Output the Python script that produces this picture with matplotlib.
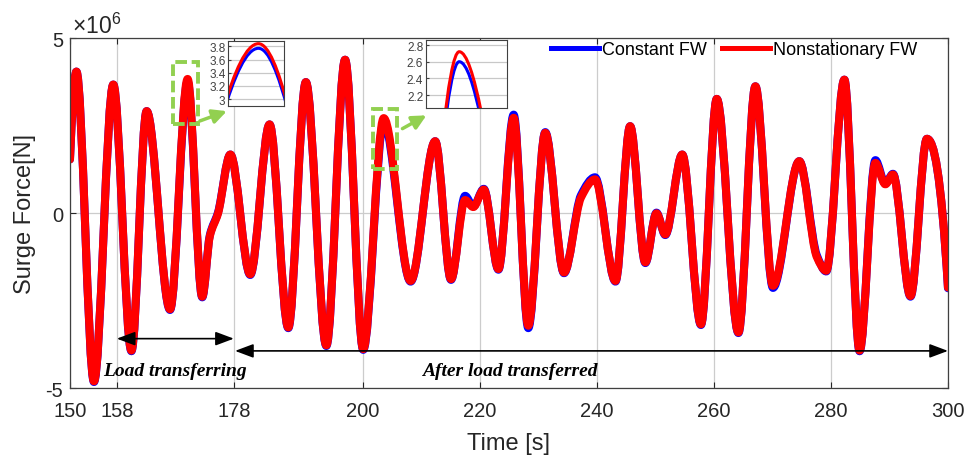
import numpy as np
import matplotlib
matplotlib.use('Agg')
import matplotlib.pyplot as plt
from matplotlib.path import Path
from matplotlib.patches import PathPatch, Rectangle
from matplotlib.lines import Line2D

plt.rcParams['font.family'] = ['Liberation Sans', 'DejaVu Sans']
plt.rcParams['mathtext.fontset'] = 'custom'
plt.rcParams['mathtext.rm'] = 'Liberation Sans'
plt.rcParams['axes.unicode_minus'] = False

# turning points of the surge force (s, x10^6 N)
time = [150.0, 151.1, 154.1, 157.4, 160.5, 163.1, 167.1, 170.1, 172.6, 173.9,
        175.3, 177.4, 180.8, 184.1, 187.3, 190.3, 193.8, 197.0, 200.1, 203.6,
        208.2, 212.4, 215.1, 217.5, 218.9, 220.7, 223.2, 225.8, 228.3, 231.2,
        234.4, 237.3, 239.7, 243.2, 245.7, 248.3, 250.2, 251.7, 254.6, 257.8,
        260.5, 264.2, 267.1, 270.1, 274.6, 277.6, 279.2, 282.3, 284.9, 287.6,
        289.3, 290.6, 293.6, 296.4, 300.0]

force_nonstat = [1.54, 4.05, -4.80, 3.68, -3.92, 2.92, -2.74, 3.84, -2.38, -0.65,
                 0.00, 1.68, -1.74, 2.54, -3.26, 3.75, -3.77, 4.39, -3.88, 2.72,
                 -1.93, 2.06, -1.88, 0.38, 0.18, 0.68, -1.59, 2.73, -3.21, 2.30,
                 -1.69, 0.45, 0.97, -1.93, 2.49, -1.40, 0.00, -0.60, 1.68, -3.17,
                 3.27, -3.40, 3.63, -2.07, 1.49, -1.25, -1.64, 3.82, -3.92, 1.44,
                 0.83, 1.11, -2.36, 2.13, -2.12]

force_const = [1.54, 4.05, -4.82, 3.68, -3.94, 2.92, -2.76, 3.77, -2.40, -0.62,
               0.03, 1.68, -1.76, 2.54, -3.28, 3.75, -3.79, 4.39, -3.90, 2.60,
               -1.95, 2.06, -1.90, 0.50, 0.20, 0.70, -1.61, 2.82, -3.28, 2.32,
               -1.71, 0.52, 1.03, -1.95, 2.49, -1.42, 0.02, -0.62, 1.68, -3.19,
               3.27, -3.42, 3.63, -2.13, 1.49, -1.20, -1.66, 3.82, -3.94, 1.52,
               0.85, 1.13, -2.38, 2.13, -2.14]

xticks = [150, 158, 178, 200, 220, 240, 260, 280, 300]


def pchip_slopes(x, y):
    x = np.asarray(x, float)
    y = np.asarray(y, float)
    h = np.diff(x)
    d = np.diff(y) / h
    m = np.zeros_like(y)
    for k in range(1, len(y) - 1):
        if d[k - 1] * d[k] > 0:
            w1 = 2 * h[k] + h[k - 1]
            w2 = h[k] + 2 * h[k - 1]
            m[k] = (w1 + w2) / (w1 / d[k - 1] + w2 / d[k])

    def end(h0, h1, d0, d1):
        s = ((2 * h0 + h1) * d0 - h0 * d1) / (h0 + h1)
        if np.sign(s) != np.sign(d0):
            s = 0.0
        elif np.sign(d0) != np.sign(d1) and abs(s) > abs(3 * d0):
            s = 3 * d0
        return s

    m[0] = end(h[0], h[1], d[0], d[1])
    m[-1] = end(h[-1], h[-2], d[-1], d[-2])
    return m


def curve(x, y):
    # smooth cubic path through the turning points
    m = pchip_slopes(x, y)
    verts = [(x[0], y[0])]
    codes = [Path.MOVETO]
    for k in range(len(x) - 1):
        h = (x[k + 1] - x[k]) / 3
        verts += [(x[k] + h, y[k] + m[k] * h),
                  (x[k + 1] - h, y[k + 1] - m[k + 1] * h),
                  (x[k + 1], y[k + 1])]
        codes += [Path.CURVE4] * 3
    return Path(verts, codes)


path_c = curve(time, force_const)
path_n = curve(time, force_nonstat)

fig = plt.figure(figsize=(9.69, 4.64), dpi=100)
ax = fig.add_axes([0.0722, 0.1609, 0.9061, 0.7543])

ax.add_patch(PathPatch(path_c, fill=False, ec='blue', lw=5.8, capstyle='round', joinstyle='round'))
ax.add_patch(PathPatch(path_n, fill=False, ec='red', lw=5.8, capstyle='round', joinstyle='round'))

ax.set_xlim(150, 300)
ax.set_ylim(-5, 5)
ax.set_xticks(xticks)
ax.set_yticks([-5, 0, 5])
ax.grid(True, color='#cccccc', lw=0.9)
ax.set_axisbelow(True)
ax.tick_params(direction='in', length=4, top=True, right=True, labelsize=14.5,
               colors='#262626', width=0.8)
ax.tick_params(axis='x', pad=9)
ax.tick_params(axis='y', pad=5)
for s in ax.spines.values():
    s.set_color('#404040')
    s.set_linewidth(0.9)

ax.set_ylabel('Surge Force[N]', fontsize=17, color='#262626')
ax.yaxis.set_label_coords(-0.0387, 0.5)
ax.set_xlabel('Time [s]', fontsize=17, color='#262626')
ax.xaxis.set_label_coords(0.5, -0.125)
ax.text(0.002, 1.0, r'$\times10^{6}$', transform=ax.transAxes, ha='left', va='bottom',
        fontsize=16.5, color='#262626')

handles = [Line2D([], [], color='blue', lw=3.6), Line2D([], [], color='red', lw=3.6)]
ax.legend(handles, ['Constant FW', 'Nonstationary FW'], loc='upper right',
          bbox_to_anchor=(0.9647, 0.992), ncol=2, frameon=False, fontsize=13,
          handlelength=2.65, handletextpad=0.17, columnspacing=0.83,
          borderaxespad=0, borderpad=0)

# load transfer annotations
arrow = dict(arrowstyle='<|-|>,head_length=0.8,head_width=0.3', color='black',
             lw=1.2, mutation_scale=14, shrinkA=0, shrinkB=0)
ax.annotate('', xy=(178, -3.58), xytext=(158, -3.58), arrowprops=arrow)
ax.annotate('', xy=(300, -3.93), xytext=(178.2, -3.93), arrowprops=arrow)
serif = dict(family='Liberation Serif', weight='bold', style='italic', fontsize=14,
             ha='center', va='center')
ax.text(167.9, -4.48, 'Load transferring', **serif)
ax.text(225.2, -4.48, 'After load transferred', **serif)

green = '#92D050'
ax.add_patch(Rectangle((167.65, 2.56), 4.27, 1.75, fill=False, ec=green, lw=2.8,
                       ls=(0, (3, 1.2)), zorder=5))
ax.add_patch(Rectangle((201.7, 1.26), 4.1, 1.71, fill=False, ec=green, lw=2.8,
                       ls=(0, (3, 1.2)), zorder=5))
garrow = dict(arrowstyle='-|>,head_length=0.6,head_width=0.3', color=green, lw=2.5,
              mutation_scale=14, shrinkA=0, shrinkB=0)
ax.annotate('', xy=(176.8, 2.92), xytext=(172.2, 2.64), arrowprops=garrow)
ax.annotate('', xy=(210.9, 2.80), xytext=(206.8, 2.42), arrowprops=garrow)

# zoomed insets
insets = [([0.2356, 0.7700, 0.0578, 0.1401], (169.47, 170.64), (2.9, 3.885),
           [3, 3.2, 3.4, 3.6, 3.8], ['3', '3.2', '3.4', '3.6', '3.8']),
          ([0.4396, 0.7644, 0.0839, 0.1478], (201.87, 206.1), (2.04, 2.864),
           [2.2, 2.4, 2.6, 2.8], ['2.2', '2.4', '2.6', '2.8'])]
for pos, xl, yl, yt, ytl in insets:
    axi = fig.add_axes(pos)
    axi.set_facecolor('white')
    axi.add_patch(PathPatch(path_c, fill=False, ec='blue', lw=2.2))
    axi.add_patch(PathPatch(path_n, fill=False, ec='red', lw=2.2))
    axi.set_xlim(*xl)
    axi.set_ylim(*yl)
    axi.set_xticks([])
    axi.set_yticks(yt)
    axi.set_yticklabels(ytl)
    axi.grid(True, axis='y', color='#c8c8c8', lw=0.9)
    axi.set_axisbelow(True)
    axi.tick_params(direction='in', length=2, labelsize=8.5, colors='#404040', pad=2)
    for s in axi.spines.values():
        s.set_color('#404040')
        s.set_linewidth(0.8)

fig.savefig('out.png', dpi=100)
